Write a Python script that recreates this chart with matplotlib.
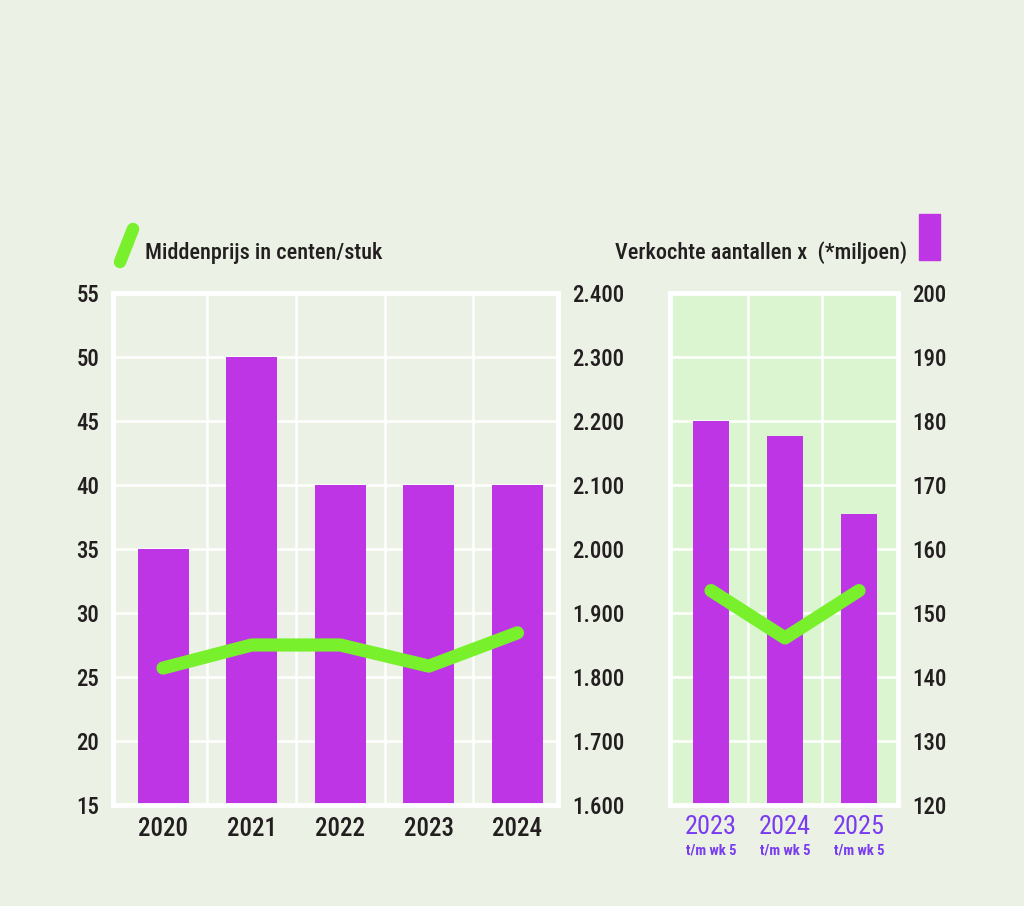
import matplotlib
matplotlib.use("Agg")
import matplotlib.pyplot as plt
from matplotlib.lines import Line2D
from matplotlib.patches import Rectangle
from matplotlib.ticker import FuncFormatter
from matplotlib import font_manager as fm

# ---- data ----
years_left = ["2020", "2021", "2022", "2023", "2024"]
sold_left = [2000, 2300, 2100, 2100, 2100]          # miljoen stuks
price_left = [25.7, 27.5, 27.5, 25.85, 28.45]         # centen/stuk

years_right = ["2023", "2024", "2025"]
sub_right = ["t/m wk 5", "t/m wk 5", "t/m wk 5"]
sold_right = [180, 177.6, 165.5]
price_right = [31.75, 28.05, 31.75]

price_ticks = [15, 20, 25, 30, 35, 40, 45, 50, 55]
sold_left_ticks = [1600, 1700, 1800, 1900, 2000, 2100, 2200, 2300, 2400]
sold_right_ticks = [120, 130, 140, 150, 160, 170, 180, 190, 200]

legend_line = "Middenprijs in centen/stuk"
legend_bar = "Verkochte aantallen x  (*miljoen)"

# ---- style ----
BG = "#EBF1E4"
PANEL = "#DBF5D0"
PURPLE = "#BE35E6"
GREEN = "#78F02C"
TXT = "#231F20"
BLUE = "#7A3CF0"

names = {f.name for f in fm.fontManager.ttflist}
FAM = "Roboto"
for cand in ["Liberation Sans Narrow", "Roboto Condensed", "Open Sans Condensed",
             "Noto Sans Condensed", "DejaVu Sans Condensed", "Arial Narrow"]:
    if cand in names:
        FAM = cand
        break
plt.rcParams["font.family"] = [FAM, "DejaVu Sans"]
plt.rcParams["font.weight"] = "medium"

fig = plt.figure(figsize=(10.24, 9.06), dpi=100, facecolor=BG)

def style_frame(ax, face):
    ax.set_facecolor(face)
    for s in ax.spines.values():
        s.set_color("white")
        s.set_linewidth(3.5)
    ax.grid(True, color="white", linewidth=1.8)
    ax.set_axisbelow(True)

# left panel
axL = fig.add_axes([0.1104, 0.1115, 0.4346, 0.5651])
axL2 = axL.twinx()
style_frame(axL, BG)
xl = list(range(len(years_left)))
axL.bar(xl, sold_left, width=0.575, color=PURPLE, zorder=2)
axL.set_ylim(1600, 2400)
axL.set_yticks(sold_left_ticks)
axL.yaxis.set_major_formatter(FuncFormatter(lambda v, p: f"{v/1000:.3f}"))
axL.yaxis.tick_right()
axL.set_xlim(-0.564, len(years_left) - 0.542)
axL.set_xticks([i + 0.5 for i in xl[:-1]])
axL.set_xticklabels([])
axL.set_xticks(xl, minor=True)
axL.set_xticklabels(years_left, minor=True)
axL.tick_params(axis="x", which="both", length=0)
axL.tick_params(axis="x", which="minor", pad=9, labelsize=18, labelcolor=TXT)
axL.tick_params(axis="y", length=0, pad=10, labelsize=16.5, labelcolor=TXT)

axL2.patch.set_visible(False)
axL2.plot(xl, price_left, color=GREEN, linewidth=9.5, solid_capstyle="round",
          solid_joinstyle="round", zorder=3)
axL2.set_ylim(15, 55)
axL2.set_yticks(price_ticks)
axL2.yaxis.tick_left()
axL2.tick_params(axis="y", length=0, pad=10, labelsize=16.5, labelcolor=TXT)
for s in axL2.spines.values():
    s.set_visible(False)

# right panel
axR = fig.add_axes([0.6543, 0.1115, 0.2227, 0.5651])
axR2 = axR.twinx()
style_frame(axR, PANEL)
xr = list(range(len(years_right)))
axR.bar(xr, sold_right, width=0.48, color=PURPLE, zorder=2)
axR.set_ylim(120, 200)
axR.set_yticks(sold_right_ticks)
axR.yaxis.tick_right()
axR.set_xlim(-0.554, len(years_right) - 0.473)
axR.set_xticks([i + 0.5 for i in xr[:-1]])
axR.set_xticklabels([])
axR.set_xticks(xr, minor=True)
axR.set_xticklabels(years_right, minor=True, fontweight="normal")
axR.tick_params(axis="x", which="both", length=0)
axR.tick_params(axis="x", which="minor", pad=7, labelsize=19, labelcolor=BLUE)
axR.tick_params(axis="y", length=0, pad=10, labelsize=16.5, labelcolor=TXT)
for i, s in zip(xr, sub_right):
    axR.text(i, -0.088, s, transform=axR.get_xaxis_transform(), ha="center",
             va="center", fontsize=10.5, fontweight="bold", color=BLUE)

axR2.patch.set_visible(False)
axR2.plot(xr, price_right, color=GREEN, linewidth=9.5, solid_capstyle="round",
          solid_joinstyle="round", zorder=3)
axR2.set_ylim(15, 55)
axR2.set_yticks([])
for s in axR2.spines.values():
    s.set_visible(False)

# legend items
fig.add_artist(Line2D([120 / 1024, 133 / 1024], [1 - 262 / 906, 1 - 229 / 906],
                      color=GREEN, linewidth=9, solid_capstyle="round"))
fig.text(145 / 1024, 1 - 253 / 906, legend_line, fontsize=16, color=TXT,
         ha="left", va="center")
fig.text(907 / 1024, 1 - 253 / 906, legend_bar, fontsize=16, color=TXT,
         ha="right", va="center")
fig.add_artist(Rectangle((919 / 1024, 1 - 260 / 906), 21 / 1024, 46 / 906,
                         transform=fig.transFigure, color=PURPLE))

fig.savefig("out.png", dpi=100, facecolor=BG)
